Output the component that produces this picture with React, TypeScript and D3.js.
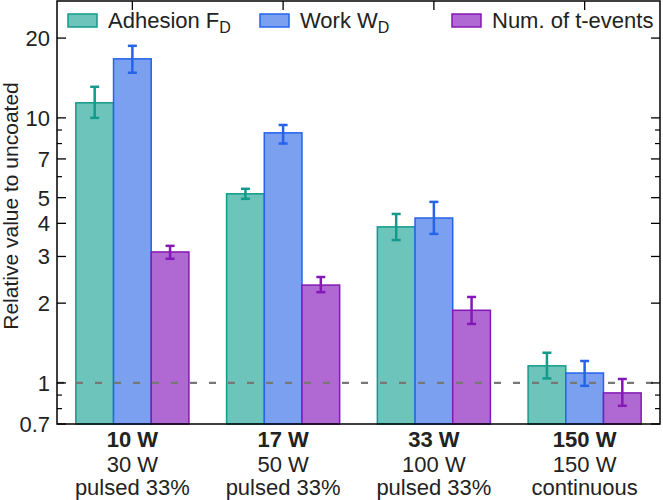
import * as d3 from "d3";

const groups = ["10 W", "17 W", "33 W", "150 W"];
const subLine1 = ["30 W", "50 W", "100 W", "150 W"];
const subLine2 = ["pulsed 33%", "pulsed 33%", "pulsed 33%", "continuous"];

const seriesNames = ["Adhesion F", "Work W", "Num. of t-events"];
const seriesSubs = ["D", "D", ""];

const adhesion = [11.4, 5.17, 3.88, 1.16];
const adhesionLo = [10.0, 4.95, 3.46, 1.04];
const adhesionHi = [13.1, 5.4, 4.34, 1.3];

const work = [16.7, 8.78, 4.19, 1.09];
const workLo = [14.8, 8.0, 3.65, 0.975];
const workHi = [18.7, 9.4, 4.82, 1.21];

const events = [3.12, 2.34, 1.88, 0.917];
const eventsLo = [2.94, 2.2, 1.67, 0.82];
const eventsHi = [3.29, 2.51, 2.11, 1.035];

const majorTicks = [0.7, 1, 2, 3, 4, 5, 7, 10, 20];
const minorTicks = [0.8, 0.9, 6, 8, 9];

const fills = ["#6cc4ba", "#7ba0ef", "#b068d2"];
const edges = ["#149a8b", "#2563eb", "#8418b6"];

const W = 663;
const H = 500;
const left = 57;
const right = 660;
const top = 1;
const bottom = 424;
const font = "'Liberation Sans', Arial, sans-serif";

export default function App() {
  const x = d3.scaleBand<string>().domain(groups).range([left, right]).padding(0);
  const inner = d3
    .scaleBand<number>()
    .domain([0, 1, 2])
    .range([0, x.bandwidth() * 0.75]);
  const y = d3.scaleLog().domain([0.7, 27.6]).range([bottom, top]);

  const series = [
    { v: adhesion, lo: adhesionLo, hi: adhesionHi },
    { v: work, lo: workLo, hi: workHi },
    { v: events, lo: eventsLo, hi: eventsHi },
  ];

  const groupStart = (g: string) => (x(g) as number) + x.bandwidth() * 0.125;

  return (
    <svg
      width={W}
      height={H}
      style={{ position: "absolute", left: 0, top: 0, fontFamily: font }}
    >
      <rect width={W} height={H} fill="#fff" />
      {/* bars */}
      {series.map((s, si) =>
        groups.map((g, gi) => {
          const bx = groupStart(g) + (inner(si) as number);
          const by = y(s.v[gi]);
          return (
            <rect
              key={`b${si}-${gi}`}
              x={bx}
              y={by}
              width={inner.bandwidth()}
              height={bottom - by}
              fill={fills[si]}
              stroke={edges[si]}
              strokeWidth={1.5}
            />
          );
        })
      )}
      {/* reference line */}
      <line
        x1={left}
        x2={right}
        y1={y(1)}
        y2={y(1)}
        stroke="#777"
        strokeWidth={2.2}
        strokeDasharray="7 12"
      />
      {/* error bars */}
      {series.map((s, si) =>
        groups.map((g, gi) => {
          const cx = groupStart(g) + (inner(si) as number) + inner.bandwidth() / 2;
          const y1 = y(s.lo[gi]);
          const y2 = y(s.hi[gi]);
          return (
            <g key={`e${si}-${gi}`} stroke={edges[si]} strokeWidth={2.5}>
              <line x1={cx} x2={cx} y1={y1} y2={y2} />
              <line x1={cx - 4.5} x2={cx + 4.5} y1={y1} y2={y1} />
              <line x1={cx - 4.5} x2={cx + 4.5} y1={y2} y2={y2} />
            </g>
          );
        })
      )}
      {/* frame */}
      <rect
        x={left}
        y={top}
        width={right - left}
        height={bottom - top}
        fill="none"
        stroke="#000"
        strokeWidth={1.5}
      />
      {/* y ticks */}
      {majorTicks.map((t) => (
        <g key={`mt${t}`}>
          <line x1={left} x2={left + 9} y1={y(t)} y2={y(t)} stroke="#000" strokeWidth={1.3} />
          <line x1={right} x2={right - 9} y1={y(t)} y2={y(t)} stroke="#000" strokeWidth={1.3} />
          <text
            x={left - 7}
            y={y(t)}
            dy="0.36em"
            textAnchor="end"
            fontSize={22}
            fill="#222"
          >
            {t}
          </text>
        </g>
      ))}
      {minorTicks.map((t) => (
        <g key={`nt${t}`}>
          <line x1={left} x2={left + 5} y1={y(t)} y2={y(t)} stroke="#000" strokeWidth={1.2} />
          <line x1={right} x2={right - 5} y1={y(t)} y2={y(t)} stroke="#000" strokeWidth={1.2} />
        </g>
      ))}
      {/* x ticks on top */}
      {groups.map((g) => {
        const cx = (x(g) as number) + x.bandwidth() / 2;
        return (
          <line key={`xt${g}`} x1={cx} x2={cx} y1={top} y2={top + 9} stroke="#000" strokeWidth={1.3} />
        );
      })}
      {/* x labels */}
      {groups.map((g, gi) => {
        const cx = (x(g) as number) + x.bandwidth() / 2;
        return (
          <g key={`xl${g}`} textAnchor="middle" fontSize={22} fill="#222">
            <text x={cx} y={447} fontWeight="bold">
              {g}
            </text>
            <text x={cx} y={472}>
              {subLine1[gi]}
            </text>
            <text x={cx} y={495}>
              {subLine2[gi]}
            </text>
          </g>
        );
      })}
      {/* y label */}
      <text
        transform={`translate(18,206) rotate(-90)`}
        textAnchor="middle"
        fontSize={21}
        fill="#222"
      >
        Relative value to uncoated
      </text>
      {/* legend */}
      {seriesNames.map((n, i) => {
        const lx = [68, 260, 452][i];
        return (
          <g key={`lg${i}`}>
            <rect
              x={lx}
              y={14}
              width={29}
              height={13}
              fill={fills[i]}
              stroke={edges[i]}
              strokeWidth={1.5}
            />
            <text x={lx + 40} y={28} fontSize={22} fill="#222">
              {n}
              {seriesSubs[i] && (
                <tspan dy={5} fontSize={16}>
                  {seriesSubs[i]}
                </tspan>
              )}
            </text>
          </g>
        );
      })}
    </svg>
  );
}
